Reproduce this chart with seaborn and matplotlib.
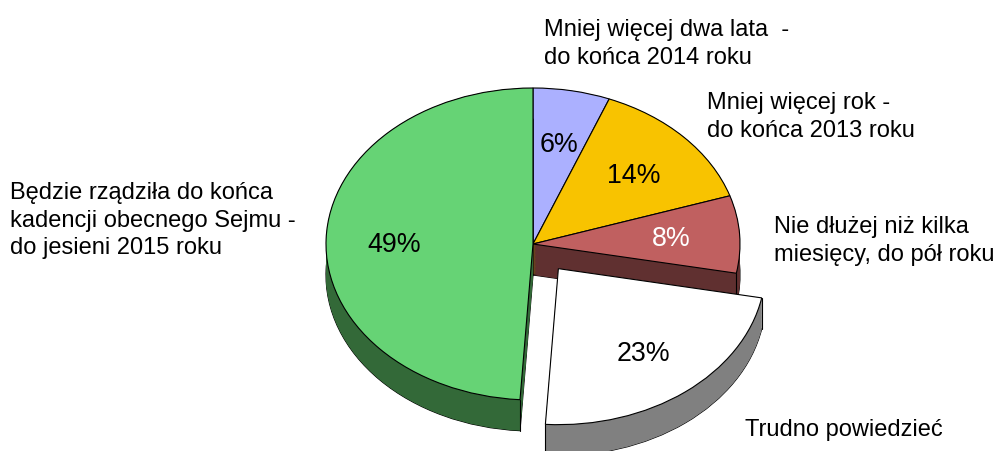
""" Poll pie chart with a fake 3D look """
import numpy as np
import seaborn as sns
import matplotlib.pyplot as plt

# Values go clockwise from the top of the pie
answers = [
    "Mniej więcej dwa lata  -\ndo końca 2014 roku",
    "Mniej więcej rok -\ndo końca 2013 roku",
    "Nie dłużej niż kilka\nmiesięcy, do pół roku",
    "Trudno powiedzieć",
    "Będzie rządziła do końca\nkadencji obecnego Sejmu -\ndo jesieni 2015 roku",
]
shares = [6, 14, 8, 23, 49]
share_labels = ["6%", "14%", "8%", "23%", "49%"]
top_colors = ["#ABB0FF", "#F8C300", "#C06060", "#FFFFFF", "#66D375"]
wall_colors = ["#565880", "#7C6200", "#603030", "#808080", "#336938"]
label_colors = ["black", "black", "white", "black", "black"]
explode = [0, 0, 0, 0.2, 0]

# Pixel sizes of the pie in the reference
W, H = 996, 451
CX, CY = 533, 244
RX, RY = 207, 156
DEPTH = 31 / RY

# Pixel positions of the texts
answer_xy = [(544, 19), (707, 92), (774, 216), (745, 419), (10, 182)]
share_xy = [(559, 145), (634, 176), (671, 239), (643, 354), (394, 245)]

sns.set_theme(style="white")
plt.rcParams["font.family"] = ["Liberation Sans", "DejaVu Sans"]

fig = plt.figure(figsize=(W / 100, H / 100), dpi=100)
ax = fig.add_axes([0, 0, 1, 1])

order = [0, 1, 2, 4, 3]  # the pulled out slice goes on top of everything


def one_pie(idx, offset, face, edge=None):
    """ Draw one slice only, the others are left out with no colour """
    colors = [face if i == idx else "none" for i in range(len(shares))]
    wedges, _ = ax.pie(
        shares,
        colors=colors,
        explode=explode,
        startangle=90,
        counterclock=False,
        center=(0, offset),
        wedgeprops={"linewidth": 0},
    )
    for i, w in enumerate(wedges):
        if i != idx:
            w.remove()
    if edge:
        wedges[idx].set_edgecolor(edge)
        wedges[idx].set_linewidth(0.8)
    return wedges[idx]


bounds = np.cumsum([0] + shares) / sum(shares) * 2 * np.pi
for idx in order:
    # the side wall is a stack of dark copies shifted down
    one_pie(idx, -DEPTH, wall_colors[idx], "black")
    for off in np.linspace(-DEPTH, 0, 40):
        one_pie(idx, off, wall_colors[idx])
    mid = (bounds[idx] + bounds[idx + 1]) / 2
    ox = explode[idx] * np.sin(mid)
    oy = explode[idx] * np.cos(mid)
    # vertical edges at the ends of the outer arc, only the front ones show
    for b in (bounds[idx], bounds[idx + 1]):
        if np.cos(b) >= 0:
            continue
        px = ox + np.sin(b)
        py = oy + np.cos(b)
        ax.plot([px, px], [py, py - DEPTH], color="black", lw=0.8, zorder=1)
    one_pie(idx, 0, top_colors[idx], "black")

ax.set_aspect("auto")
ax.set_xlim(-CX / RX, (W - CX) / RX)
ax.set_ylim(-(H - CY) / RY, CY / RY)
ax.axis("off")

for txt, (x, y) in zip(answers, answer_xy):
    fig.text(x / W, 1 - y / H, txt, fontsize=17, ha="left", va="top",
             linespacing=1.33, color="black")
for txt, (x, y), c in zip(share_labels, share_xy, label_colors):
    fig.text(x / W, 1 - y / H, txt, fontsize=19.3, ha="center", va="center", color=c)

fig.savefig("out.png", dpi=100)
